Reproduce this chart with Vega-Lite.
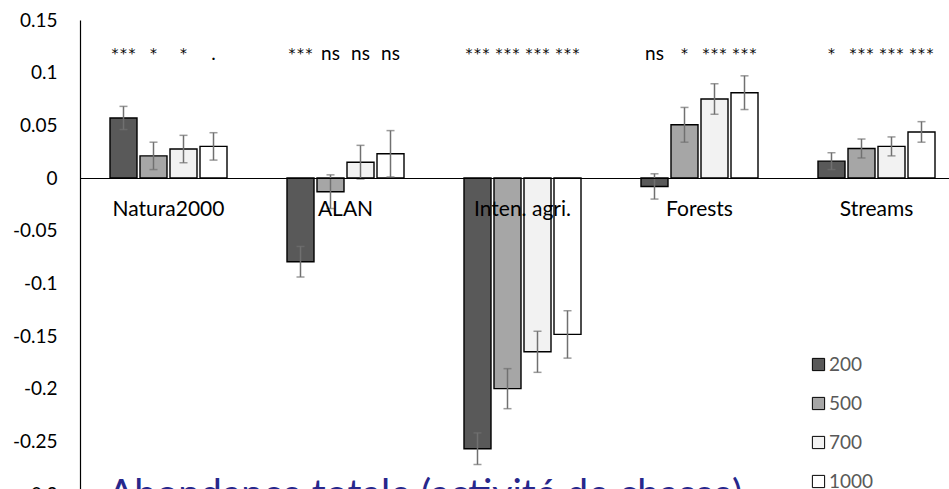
{
  "$schema": "https://vega.github.io/schema/vega-lite/v6.json",
  "autosize": {"type": "none"},
  "padding": {"left": 80, "top": 20, "right": 0, "bottom": 0},
  "width": 869,
  "height": 469,
  "background": "white",
  "title": {
    "text": "Abondance totale (activité de chasse)",
    "orient": "bottom",
    "anchor": "start",
    "frame": "group",
    "baseline": "top",
    "offset": -28,
    "dx": 28,
    "font": "Lato",
    "fontSize": 39,
    "fontWeight": "normal",
    "color": "#27278C"
  },
  "config": {
    "view": {"stroke": null},
    "font": "Lato"
  },
  "data": {
    "values": [
      {"cat": "Natura2000", "dist": "200", "value": 0.057, "lo": 0.046, "hi": 0.068, "sig": "***"},
      {"cat": "Natura2000", "dist": "500", "value": 0.021, "lo": 0.008, "hi": 0.034, "sig": "*"},
      {"cat": "Natura2000", "dist": "700", "value": 0.0275, "lo": 0.0145, "hi": 0.0405, "sig": "*"},
      {"cat": "Natura2000", "dist": "1000", "value": 0.030, "lo": 0.017, "hi": 0.043, "sig": "."},
      {"cat": "ALAN", "dist": "200", "value": -0.0795, "lo": -0.094, "hi": -0.065, "sig": "***"},
      {"cat": "ALAN", "dist": "500", "value": -0.013, "lo": -0.029, "hi": 0.003, "sig": "ns"},
      {"cat": "ALAN", "dist": "700", "value": 0.015, "lo": -0.001, "hi": 0.031, "sig": "ns"},
      {"cat": "ALAN", "dist": "1000", "value": 0.023, "lo": 0.001, "hi": 0.045, "sig": "ns"},
      {"cat": "Inten. agri.", "dist": "200", "value": -0.257, "lo": -0.272, "hi": -0.242, "sig": "***"},
      {"cat": "Inten. agri.", "dist": "500", "value": -0.200, "lo": -0.219, "hi": -0.181, "sig": "***"},
      {"cat": "Inten. agri.", "dist": "700", "value": -0.165, "lo": -0.1845, "hi": -0.1455, "sig": "***"},
      {"cat": "Inten. agri.", "dist": "1000", "value": -0.1485, "lo": -0.171, "hi": -0.126, "sig": "***"},
      {"cat": "Forests", "dist": "200", "value": -0.008, "lo": -0.020, "hi": 0.004, "sig": "ns"},
      {"cat": "Forests", "dist": "500", "value": 0.0505, "lo": 0.034, "hi": 0.067, "sig": "*"},
      {"cat": "Forests", "dist": "700", "value": 0.075, "lo": 0.0605, "hi": 0.0895, "sig": "***"},
      {"cat": "Forests", "dist": "1000", "value": 0.081, "lo": 0.065, "hi": 0.097, "sig": "***"},
      {"cat": "Streams", "dist": "200", "value": 0.016, "lo": 0.008, "hi": 0.024, "sig": "*"},
      {"cat": "Streams", "dist": "500", "value": 0.028, "lo": 0.019, "hi": 0.037, "sig": "***"},
      {"cat": "Streams", "dist": "700", "value": 0.030, "lo": 0.021, "hi": 0.039, "sig": "***"},
      {"cat": "Streams", "dist": "1000", "value": 0.0437, "lo": 0.034, "hi": 0.0535, "sig": "***"}
    ]
  },
  "encoding": {
    "x": {
      "field": "cat",
      "type": "nominal",
      "sort": null,
      "scale": {"paddingInner": 0.322, "paddingOuter": 0.161, "range": [0, 885]},
      "axis": {
        "orient": "bottom",
        "offset": -311,
        "title": null,
        "labelAngle": 0,
        "ticks": false,
        "tickSize": 0,
        "labelPadding": 20,
        "labelFont": "Lato",
        "labelFontSize": 21,
        "labelColor": "#000000",
        "domainColor": "#000000",
        "domainWidth": 1.2,
        "zindex": 1
      }
    },
    "xOffset": {
      "field": "dist",
      "type": "nominal",
      "scale": {"domain": ["200", "500", "700", "1000"], "paddingInner": 0.1, "paddingOuter": 0.05}
    }
  },
  "layer": [
    {
      "mark": {"type": "bar", "stroke": "#000000", "strokeWidth": 1.4},
      "encoding": {
        "y": {
          "field": "value",
          "type": "quantitative",
          "scale": {"domain": [-0.3, 0.15], "nice": false, "zero": false, "range": [474, 0]},
          "axis": {
            "title": null,
            "grid": false,
            "ticks": false,
            "tickSize": 0,
            "values": [-0.3, -0.25, -0.2, -0.15, -0.1, -0.05, 0, 0.05, 0.1, 0.15],
            "labelExpr": "datum.value + ''",
            "labelPadding": 23,
            "labelFont": "Lato",
            "labelFontSize": 19,
            "labelColor": "#000000",
            "labelOverlap": false,
            "labelBound": false,
            "domainColor": "#000000",
            "domainWidth": 1.2
          }
        },
        "fill": {
          "field": "dist",
          "type": "nominal",
          "scale": {"domain": ["200", "500", "700", "1000"], "range": ["#595959", "#A6A6A6", "#F2F2F2", "#FFFFFF"]},
          "legend": {
            "title": null,
            "orient": "none",
            "legendX": 729,
            "legendY": 335,
            "symbolType": "square",
            "symbolSize": 150,
            "symbolStrokeColor": "#000000",
            "symbolStrokeWidth": 1,
            "labelFont": "Lato",
            "labelFontSize": 19,
            "labelColor": "#595959",
            "labelOffset": 1,
            "rowPadding": 19
          }
        }
      }
    },
    {
      "mark": {"type": "rule", "color": "#707070", "strokeWidth": 1.5},
      "encoding": {
        "y": {"field": "lo", "type": "quantitative"},
        "y2": {"field": "hi"}
      }
    },
    {
      "mark": {"type": "tick", "color": "#707070", "thickness": 1.5, "size": 8, "orient": "horizontal"},
      "encoding": {
        "y": {"field": "lo", "type": "quantitative"}
      }
    },
    {
      "mark": {"type": "tick", "color": "#707070", "thickness": 1.5, "size": 8, "orient": "horizontal"},
      "encoding": {
        "y": {"field": "hi", "type": "quantitative"}
      }
    },
    {
      "transform": [{"filter": "indexof(datum.sig, '*') >= 0"}],
      "mark": {"type": "text", "font": "DejaVu Sans Mono", "fontSize": 14, "baseline": "alphabetic", "align": "center", "color": "#000000"},
      "encoding": {
        "y": {"datum": 0.1143},
        "text": {"field": "sig"}
      }
    },
    {
      "transform": [{"filter": "indexof(datum.sig, '*') < 0"}],
      "mark": {"type": "text", "font": "Lato", "fontSize": 19, "baseline": "alphabetic", "align": "center", "color": "#000000"},
      "encoding": {
        "y": {"datum": 0.1123},
        "text": {"field": "sig"}
      }
    }
  ]
}
